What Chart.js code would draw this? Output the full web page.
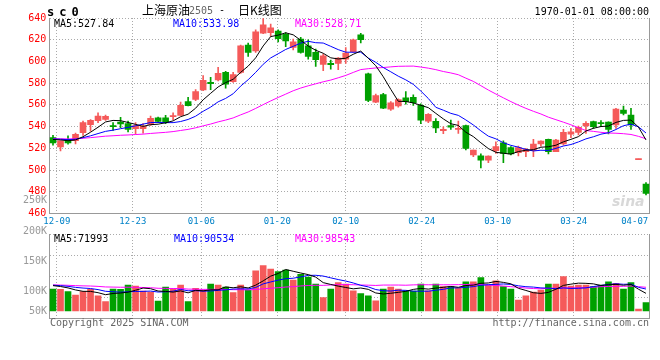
<!DOCTYPE html>
<html>
<head>
<meta charset="utf-8">
<script src="https://cdn.jsdelivr.net/npm/chart.js@4.4.1/dist/chart.umd.min.js"></script>
<style>
  body { margin: 0; width: 660px; height: 360px; background: #fff; position: relative; overflow: hidden;
         font-family: "DejaVu Sans Mono", monospace; font-size: 10px; }
  canvas { position: absolute; left: 0; }
  #price { top: 0; }
  #vol { top: 226px; }
  .t { position: absolute; white-space: nowrap; line-height: 12px; }
  .cjk { font-family: "Noto Sans CJK SC", sans-serif; font-size: 12px; line-height: 14px; top: 3px; }
  .vl { right: 613px; color: #999; }
</style>
</head>
<body>
<canvas id="price" width="660" height="232"></canvas>
<canvas id="vol" width="660" height="104"></canvas>

<div class="t" id="code" style="left:47px;top:6px;font-weight:bold;font-size:12px;letter-spacing:5px"></div>
<div class="t cjk" style="left:142px">上海原油</div>
<div class="t" style="left:189px;top:5px;color:#666">2505</div>
<div class="t" style="left:219px;top:4px">-</div>
<div class="t cjk" style="left:238px">日K线图</div>
<div class="t" id="stamp" style="right:11px;top:6px"></div>

<div class="t" id="pma0" style="left:54px;top:18px;color:#000"></div>
<div class="t" id="pma1" style="left:173px;top:18px;color:#00f"></div>
<div class="t" id="pma2" style="left:295px;top:18px;color:#f0f"></div>

<div class="t" id="vma0" style="left:54px;top:233px;color:#000"></div>
<div class="t" id="vma1" style="left:174px;top:233px;color:#00f"></div>
<div class="t" id="vma2" style="left:295px;top:233px;color:#f0f"></div>

<div class="t vl" id="vl0" style="top:194px"></div>
<div class="t vl" id="vl1" style="top:225px"></div>
<div class="t vl" id="vl2" style="top:255px"></div>
<div class="t vl" id="vl3" style="top:285px"></div>
<div class="t vl" id="vl4" style="top:305px"></div>

<div class="t" style="left:612px;top:193px;font:italic bold 14px 'DejaVu Sans',sans-serif;color:rgba(190,190,190,0.6)">sina</div>

<div class="t" style="left:50px;top:317px;color:#666">Copyright 2025 SINA.COM</div>
<div class="t" style="right:11px;top:317px;color:#666">http://finance.sina.com.cn</div>

<script>
// ══════════════════════════════════════════
// SC0 — 日K线 + 成交量
// ══════════════════════════════════════════

const dates = [
  '12-05','12-06','12-09','12-10','12-11','12-12','12-13','12-16','12-17','12-18','12-19','12-20','12-23','12-24','12-25','12-26','12-27','12-30','12-31',
  '01-02','01-03','01-06','01-07','01-08','01-09','01-10','01-13','01-14','01-15','01-16','01-17','01-20','01-21','01-22','01-23','01-24','01-27',
  '02-05','02-06','02-07','02-10','02-11','02-12','02-13','02-14','02-17','02-18','02-19','02-20','02-21','02-24','02-25','02-26','02-27','02-28',
  '03-03','03-04','03-05','03-06','03-07','03-10','03-11','03-12','03-13','03-14','03-17','03-18','03-19','03-20','03-21','03-24','03-25','03-26','03-27','03-28','03-31',
  '04-01','04-02','04-03','04-07'
];

const opens = [
  530, 521.3, 528, 527, 534.5, 541.8, 545.5, 546.7, 541, 544.2,
  542.7, 538, 538, 542, 548.2, 548.2, 549.2, 550.3, 563.1, 565,
  573.8, 580.8, 583, 590, 581.4, 590, 615, 609.8, 626, 626.6,
  628, 625, 612.8, 620.5, 614.4, 608.3, 597.3, 598.2, 598.2, 602.2,
  609, 624.4, 588.5, 562.5, 569.5, 556, 559, 566.5, 567, 559.5,
  545, 544.8, 536.3, 540.9, 537.5, 541, 513.9, 513, 509.2, 517.8,
  525, 520.6, 516, 517, 517.8, 524, 528.3, 517, 524, 533,
  534.7, 540.6, 544.6, 543.6, 544.2, 541.5, 555.3, 550.7, 509.6, 487
];
const highs = [
  532, 527, 531.4, 534, 545, 546.4, 552.8, 550.6, 543.6, 548.5,
  545, 543.6, 542.7, 549.7, 548.8, 550.3, 552.8, 562.5, 567, 574,
  587, 585.4, 594.5, 591, 590, 615, 616.8, 629, 639.5, 634.5,
  629, 626.6, 620.5, 622.3, 619.9, 611.4, 606.8, 601.3, 603.5, 612.8,
  620.5, 626, 589.4, 570, 570.7, 563, 565.5, 572.3, 569.3, 561,
  552, 547.3, 539.7, 546, 545, 541.5, 518.5, 515, 513, 526,
  527, 521.5, 522, 520, 528.3, 527, 528.5, 528.3, 537.5, 538.4,
  540.6, 544.6, 545, 545.5, 544.5, 556.8, 559, 556.8, 510.2, 488.4
];
const lows = [
  523, 517.7, 523.8, 524, 532, 535.7, 543.6, 545.8, 536.6, 539,
  535, 533, 534, 541, 543.6, 542.7, 546.4, 550.3, 559, 563.8,
  573, 574, 582, 575.3, 580.8, 589, 604.6, 608.3, 625.5, 623,
  618, 613.7, 610.7, 607.7, 602.2, 595.4, 591.5, 593, 592.4, 598.2,
  608.3, 617, 563, 562, 556.5, 555, 558, 560.7, 559.5, 542.7,
  543.6, 534.5, 533.6, 537.5, 533.8, 518.5, 512.3, 502, 506.8, 515.4,
  506.8, 514, 513, 512.3, 512.3, 522, 514.8, 516.9, 522.8, 529.8,
  532.3, 533.8, 538.4, 540, 533.2, 538.4, 550.7, 537.5, 509.6, 477
];
const closes = [
  525, 526.8, 525, 533, 543.6, 545.8, 549.7, 549.4, 540, 542.4,
  537.5, 541, 540.3, 547.6, 544.8, 544, 549.7, 559.5, 559.2, 572.3,
  582.6, 579.6, 589, 579, 587.8, 614.4, 608.3, 627.2, 633.6, 631,
  621, 619, 618, 608.3, 604.6, 601.6, 605.2, 597, 603.1, 607.7,
  620, 620, 564, 568.6, 557, 562, 565, 563, 562, 546,
  551.3, 538.7, 537.5, 539.6, 538.4, 520, 518.5, 509, 512.9, 521.5,
  515.4, 514.8, 520.6, 519, 524, 526.7, 517, 527.6, 534.7, 535.3,
  539.3, 543, 540, 542.7, 537.5, 556.2, 552.2, 541.5, 510.2, 478.6
];
const volumes = [
  92400, 91000, 81000, 67000, 81000, 91000, 64000, 39000, 92000, 91000,
  109000, 105000, 84000, 79000, 42000, 100000, 91000, 109000, 39000, 95000,
  88000, 113000, 109000, 100000, 77000, 109000, 88000, 168000, 190000, 176000,
  165000, 172000, 130000, 154000, 142000, 113000, 56000, 92000, 119000, 113000,
  85000, 73000, 64000, 43000, 92000, 100000, 92000, 85000, 84000, 113000,
  85000, 113000, 102000, 102000, 95000, 122000, 122000, 140000, 109000, 127000,
  102000, 92000, 46000, 64000, 79000, 88000, 113000, 113000, 144000, 105000,
  109000, 109000, 102000, 109000, 122000, 116000, 92000, 119000, 8000, 35000
];

const tickDates = ['12-09', '12-23', '01-06', '01-20', '02-10', '02-24', '03-10', '03-24', '04-07'];
const volTickLabels = ['250K', '200K', '150K', '100K', '50K'];
const priceMaText = ['MA5:527.84', 'MA10:533.98', 'MA30:528.71'];
const volMaText = ['MA5:71993', 'MA10:90534', 'MA30:98543'];
const maPeriods = [5, 10, 30];

// estimated level before 12-05, only used to seed the averages
const seedClose = 529;
const seedVolume = 110000;

// ── STYLE ──

const UP = '#f55a5a';
const DOWN = '#00a000';
const MA_COLORS = ['#000000', '#0000ff', '#ff00ff'];
const GRID = '#aaaaaa';
const FRAME = '#999999';
const MONO = 'DejaVu Sans Mono';

const n = closes.length;
const xMin = -0.5;
const xMax = n - 0.5;
const volMin = -29400;
const volMax = 323000;

Chart.defaults.font.family = MONO;
Chart.defaults.font.size = 10;

// ── HELPERS ──

function setText(id, val) {
  const el = document.getElementById(id);
  if (el) el.textContent = val;
}

function movingAvg(values, period, seed) {
  return values.map((_, i) => {
    let s = 0;
    for (let k = i - period + 1; k <= i; k++) s += k < 0 ? seed : values[k];
    return s / period;
  });
}

// sina spreads its date grid over n-1 slots, so it drifts against the candles
function dateTicks(scale) {
  const last = tickDates.length - 1;
  scale.ticks = tickDates.map((d, i) => {
    const j = dates.indexOf(d);
    let v = (j - 1) * n / (n - 1) - 0.5;
    if (i === last) v = Math.min(v, xMax - 2); // keep the last label inside the frame
    return { value: v };
  });
}

function xAxis(showLabels, labelHeight) {
  return {
    type: 'linear',
    min: xMin,
    max: xMax,
    offset: false,
    bounds: 'data',
    afterBuildTicks: dateTicks,
    ticks: {
      display: showLabels,
      callback: (v, i) => tickDates[i],
      color: '#0082c8',
      font: { size: 9 },
      padding: 3,
      autoSkip: false,
      maxRotation: 0,
      minRotation: 0,
    },
    grid: {
      offset: false,
      color: ctx => (ctx.index === tickDates.length - 1 ? 'rgba(0,0,0,0)' : GRID),
      drawTicks: false,
    },
    border: { color: FRAME, dash: [1, 2] },
    afterFit: s => { s.height = labelHeight; },
  };
}

function rightFrame() {
  return {
    position: 'right',
    grid: { display: false, drawTicks: false },
    ticks: { display: false },
    border: { color: FRAME },
    afterFit: s => { s.width = 10.25; },
  };
}

const idx = closes.map((_, i) => i);
const isUp = idx.map(i => closes[i] >= opens[i]);
const candleColors = isUp.map(u => (u ? UP : DOWN));

function maLines(values, seed) {
  return maPeriods.map((p, k) => ({
    type: 'line',
    data: movingAvg(values, p, seed).map((y, i) => ({ x: i, y })),
    borderColor: MA_COLORS[k],
    borderWidth: 1,
    pointRadius: 0,
    tension: 0,
    order: 0,
  }));
}

const common = {
  responsive: false,
  animation: false,
  events: [],
  plugins: { legend: { display: false }, tooltip: { enabled: false } },
};

// ── PRICE ──

new Chart(document.getElementById('price'), {
  type: 'bar',
  data: {
    datasets: [
      {
        data: idx.map(i => ({ x: i, y: [lows[i], highs[i]] })),
        backgroundColor: candleColors,
        grouped: false,
        barPercentage: 1,
        categoryPercentage: 1,
        maxBarThickness: 1,
        order: 2,
      },
      {
        data: idx.map(i => ({ x: i, y: [opens[i], closes[i]] })),
        backgroundColor: candleColors,
        grouped: false,
        barPercentage: 1,
        categoryPercentage: 1,
        maxBarThickness: 6,
        minBarLength: 1,
        order: 1,
      },
      ...maLines(closes, seedClose),
    ],
  },
  options: {
    ...common,
    layout: { padding: { top: 18, left: 0, right: 0, bottom: 0 } },
    scales: {
      x: xAxis(true, 18.5),
      y: {
        min: 460,
        max: 640,
        ticks: { stepSize: 20, color: '#ff0000', padding: 3 },
        grid: { color: GRID, drawTicks: false },
        border: { color: FRAME, dash: [1, 2] },
        afterFit: s => { s.width = 49.25; },
      },
      y2: rightFrame(),
    },
  },
});

// ── VOLUME ──

new Chart(document.getElementById('vol'), {
  type: 'bar',
  data: {
    datasets: [
      {
        data: idx.map(i => ({ x: i, y: volumes[i] })),
        backgroundColor: candleColors,
        grouped: false,
        barPercentage: 1,
        categoryPercentage: 1,
        maxBarThickness: 6,
        order: 1,
      },
      ...maLines(volumes, seedVolume),
    ],
  },
  options: {
    ...common,
    layout: { padding: { top: 8, left: 0, right: 0, bottom: 0 } },
    scales: {
      x: xAxis(false, 12),
      y: {
        min: volMin,
        max: volMax,
        afterBuildTicks: s => {
          s.ticks = [0, 1, 2, 3, 4].map(k => ({ value: volMin + (volMax - volMin) * k / 4 }));
        },
        ticks: { display: false },
        grid: { color: GRID, drawTicks: false },
        border: { color: FRAME, dash: [1, 2] },
        afterFit: s => { s.width = 49.25; },
      },
      y2: rightFrame(),
    },
  },
});

// ── TEXTS ──

setText('code', 'sc0');
setText('stamp', '1970-01-01 08:00:00');
priceMaText.forEach((t, k) => setText('pma' + k, t));
volMaText.forEach((t, k) => setText('vma' + k, t));
volTickLabels.forEach((t, k) => setText('vl' + k, t));
</script>
</body>
</html>
